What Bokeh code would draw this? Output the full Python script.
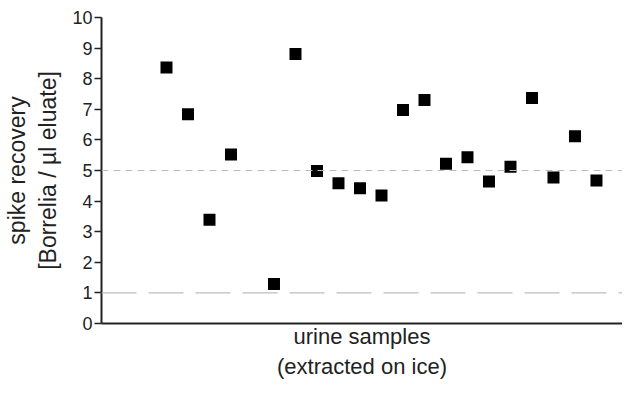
from bokeh.plotting import figure
from bokeh.models import Span, FixedTicker, Range1d
from bokeh.embed import file_html
from bokeh.resources import INLINE

# data
samples = [1, 2, 3, 4, 6, 7, 8, 9, 10, 11, 12, 13, 14, 15, 16, 17, 18, 19, 20, 21]
recovery = [8.37, 6.84, 3.39, 5.52, 1.29, 8.81, 4.98, 4.58, 4.42, 4.18,
            6.98, 7.30, 5.22, 5.43, 4.64, 5.12, 7.37, 4.77, 6.12, 4.67]
y_ticks = [0, 1, 2, 3, 4, 5, 6, 7, 8, 9, 10]
upper_ref = 5
lower_ref = 1

FONT = "Liberation Sans"
TXT = "#222222"

p = figure(frame_width=521, frame_height=306, output_backend="svg", toolbar_location=None,
           x_range=Range1d(-2.023, 22.21), y_range=Range1d(0, 10),
           min_border_left=101, min_border_right=0, min_border_top=17,
           min_border_bottom=57)

p.outline_line_color = None
p.xgrid.visible = False
p.ygrid.visible = False
p.background_fill_color = "white"
p.border_fill_color = "white"

p.add_layout(Span(location=upper_ref, dimension="width", line_color="#bdbdbd",
                  line_width=1.2, line_dash="7 5"))
p.add_layout(Span(location=lower_ref, dimension="width", line_color="#bdbdbd",
                  line_width=1.2, line_dash="35 12"))

p.scatter(samples, recovery, marker="square", size=12, fill_color="black",
          line_color="black", line_width=0)

ya = p.yaxis[0]
ya.ticker = FixedTicker(ticks=y_ticks)
ya.minor_tick_line_color = None
ya.major_tick_in = 0
ya.major_tick_out = 7
ya.major_tick_line_width = 1.5
ya.major_tick_line_color = TXT
ya.axis_line_width = 2
ya.axis_line_color = TXT
ya.major_label_text_font = FONT
ya.major_label_text_font_size = "18px"
ya.major_label_text_color = TXT
ya.major_label_standoff = 2
ya.axis_label = "spike recovery\n[Borrelia / µl eluate]"
ya.axis_label_text_font = FONT
ya.axis_label_text_font_size = "23px"
ya.axis_label_text_font_style = "normal"
ya.axis_label_text_color = TXT
ya.axis_label_standoff = 8

xa = p.xaxis[0]
xa.ticker = FixedTicker(ticks=[])
xa.minor_tick_line_color = None
xa.major_tick_line_color = None
xa.major_label_text_font_size = "0px"
xa.axis_line_width = 2
xa.axis_line_color = TXT
xa.axis_label = "urine samples\n(extracted on ice)"
xa.axis_label_text_font = FONT
xa.axis_label_text_font_size = "22px"
xa.axis_label_text_font_style = "normal"
xa.axis_label_text_color = TXT
xa.axis_label_standoff = 0

open("out.html", "w").write(file_html(p, INLINE))
